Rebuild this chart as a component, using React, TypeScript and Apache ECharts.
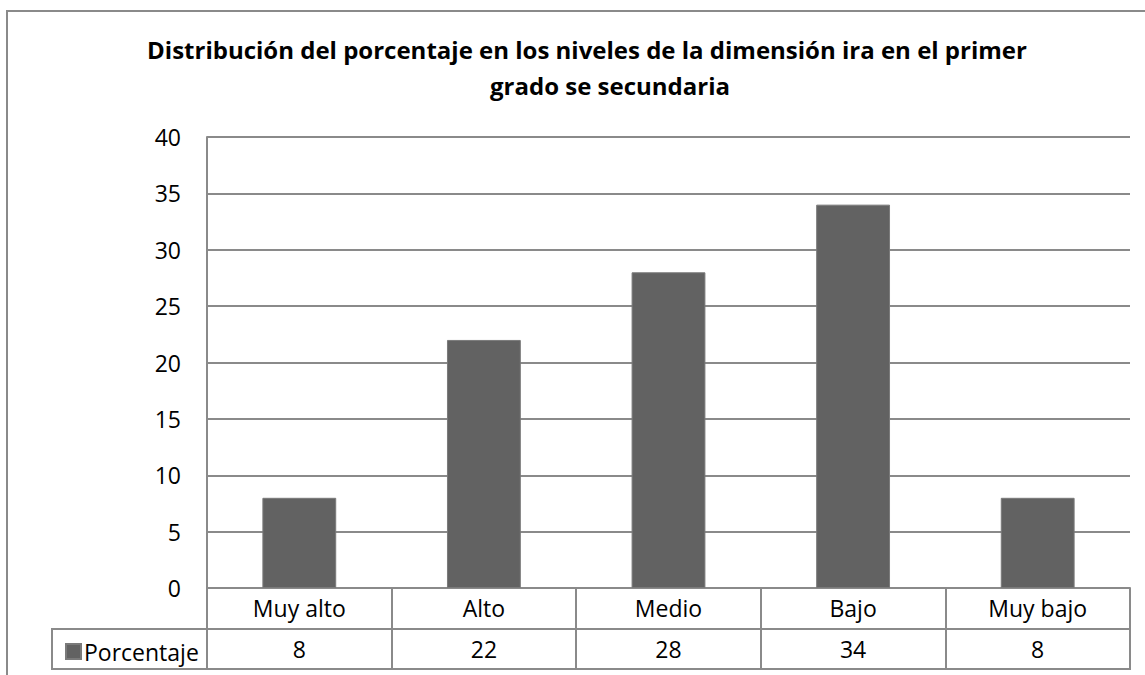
import React, { useEffect, useRef } from "react";
import * as echarts from "echarts";

const titleLine1 = "Distribución del porcentaje en los niveles de la dimensión ira en el primer";
const titleLine2 = "grado se secundaria";
const categories = ["Muy alto", "Alto", "Medio", "Bajo", "Muy bajo"];
const seriesName = "Porcentaje";
const values = [8, 22, 28, 34, 8];
const yTicks = { min: 0, max: 40, interval: 5 };

const FONT = "Open Sans";
const GRAY = "#8a8a8a";
const BAR = "#626262";

export default function App() {
  const ref = useRef<HTMLDivElement>(null);
  useEffect(() => {
    if (!ref.current) return;
    const chart = echarts.init(ref.current, undefined, { renderer: "svg" });
    chart.setOption({
      animation: false,
      backgroundColor: "#ffffff",
      textStyle: { fontFamily: FONT },
      title: [
        {
          text: titleLine1,
          left: 582,
          top: 32,
          textAlign: "center",
          textStyle: { fontFamily: FONT, fontWeight: "bold", fontSize: 24, color: "#000" },
        },
        {
          text: titleLine2,
          left: 605,
          top: 68,
          textAlign: "center",
          textStyle: { fontFamily: FONT, fontWeight: "bold", fontSize: 24, color: "#000" },
        },
      ],
      legend: {
        data: [seriesName],
        left: 60,
        top: 635,
        icon: "rect",
        itemWidth: 15,
        itemHeight: 15,
        itemGap: 6,
        textStyle: { fontFamily: FONT, fontSize: 23, color: "#000", padding: [0, 0, 0, -2] },
        selectedMode: false,
      },
      grid: { left: 207, right: 15, top: 137, bottom: 87, containLabel: false },
      xAxis: [
        {
          type: "category",
          data: categories,
          position: "bottom",
          axisLine: { show: true, lineStyle: { color: GRAY, width: 2 } },
          axisTick: { show: true, length: 81, lineStyle: { color: GRAY, width: 2 } },
          axisLabel: {
            fontFamily: FONT,
            fontSize: 23,
            color: "#000",
            verticalAlign: "middle",
            margin: 20,
          },
        },
        {
          type: "category",
          data: categories,
          position: "bottom",
          offset: 41,
          axisLine: { show: false },
          axisTick: { show: false },
          axisLabel: {
            fontFamily: FONT,
            fontSize: 23,
            color: "#000",
            verticalAlign: "middle",
            margin: 20,
            formatter: (_v: string, i: number) => String(values[i]),
          },
        },
      ],
      yAxis: {
        type: "value",
        min: yTicks.min,
        max: yTicks.max,
        interval: yTicks.interval,
        axisLine: { show: true, lineStyle: { color: GRAY, width: 2 } },
        axisTick: { show: false },
        splitLine: { show: true, lineStyle: { color: GRAY, width: 2 } },
        axisLabel: { fontFamily: FONT, fontSize: 23, color: "#000", margin: 26 },
      },
      series: [
        {
          name: seriesName,
          type: "bar",
          data: values,
          barWidth: "40%",
          itemStyle: { color: BAR, borderColor: "#7a7a7a", borderWidth: 1 },
        },
      ],
      graphic: [
        {
          type: "rect",
          shape: { x: 52, y: 629, width: 1078, height: 40 },
          style: { fill: "none", stroke: GRAY, lineWidth: 2 },
          silent: true,
        },
        {
          type: "rect",
          shape: { x: 7, y: 11, width: 1160, height: 700 },
          style: { fill: "none", stroke: GRAY, lineWidth: 2 },
          silent: true,
        },
      ],
    });
    return () => chart.dispose();
  }, []);
  return (
    <div
      ref={ref}
      style={{ position: "absolute", left: 0, top: 0, width: 1145, height: 675 }}
    />
  );
}
